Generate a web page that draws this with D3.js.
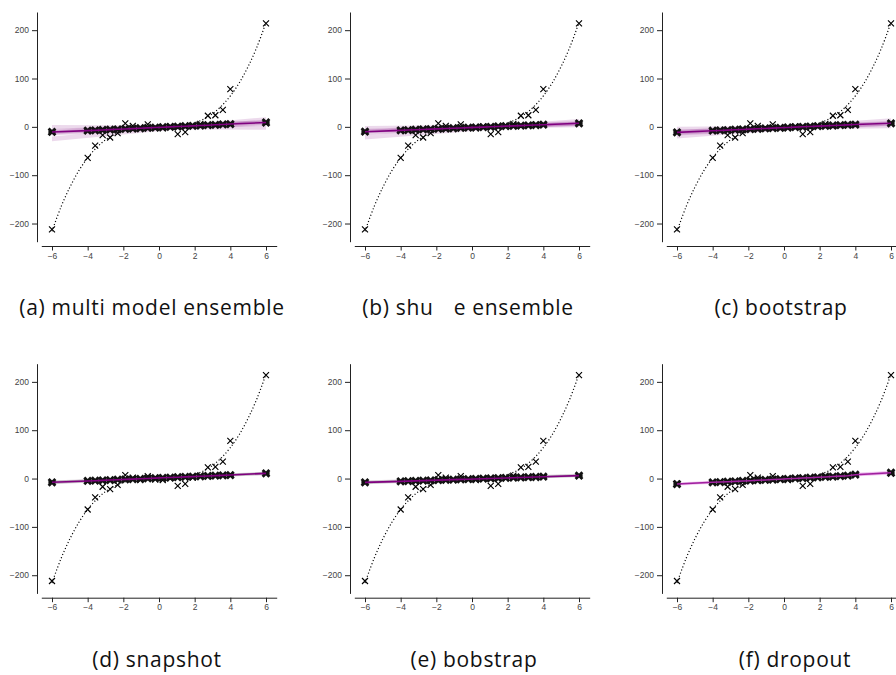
<!DOCTYPE html>
<html>
<head>
<meta charset="utf-8">
<script src="https://cdn.jsdelivr.net/npm/d3@7"></script>
<style>
  body { margin: 0; background: #fff; }
  svg { display: block; }
  .tick text { font-family: "Liberation Sans", Arial, sans-serif; font-size: 8.5px; fill: #444; }
  .tick line, .domain { stroke: #222; }
  .caption { font-family: "Open Sans", sans-serif; font-size: 21px; fill: #111; letter-spacing: 0.7px; }
</style>
</head>
<body>
<svg id="chart" width="896" height="675"></svg>
<script>
// training data (crosses): x and noisy y
const dataX = [-6, -4, -3.58, -3.16, -2.74, -2.32, -1.89, -1.47, -1.05, -0.63, -0.21, 0.21, 0.63, 1.05, 1.47, 1.89, 2.32, 2.74, 3.16, 3.58, 4, 6];
const dataY = [-212, -64, -39, -17, -22, -13, 7, 2, -3, 5, -2, -3, 1, -15, -11, 2, 6, 23, 24, 35, 78, 214];

// true function (dotted curve)
const trueX = [-6, -5.5, -5, -4.5, -4, -3.5, -3, -2.5, -2, -1.5, -1, -0.5, 0, 0.5, 1, 1.5, 2, 2.5, 3, 3.5, 4, 4.5, 5, 5.5, 6];
const trueY = [-216, -166, -125, -91, -64, -43, -27, -16, -8, -3, -1, 0, 0, 0, 1, 3, 8, 16, 27, 43, 64, 91, 125, 166, 216];

// mean prediction of the ensemble at each dataX, per panel
const meanMulti     = [-10.5, -7.9, -7.2, -6.5, -5.8, -5.1, -4.4, -3.6, -2.9, -2.2, -1.5, -0.8, -0.1, 0.6, 1.3, 2.0, 2.7, 3.4, 4.2, 4.9, 5.8, 9.0];
const meanShuffle   = [-10.0, -7.2, -6.6, -6.0, -5.4, -4.8, -4.1, -3.5, -2.9, -2.3, -1.7, -1.1, -0.5, 0.1, 0.8, 1.4, 2.0, 2.6, 3.2, 3.8, 4.5, 7.3];
const meanBootstrap = [-11.4, -8.0, -7.4, -6.7, -6.0, -5.4, -4.7, -4.0, -3.3, -2.6, -2.0, -1.3, -0.6, 0.1, 0.7, 1.4, 2.1, 2.8, 3.4, 4.1, 4.8, 7.3];
const meanSnapshot  = [-7.8, -5.0, -4.4, -3.7, -3.1, -2.4, -1.8, -1.1, -0.5, 0.2, 0.8, 1.5, 2.1, 2.7, 3.4, 4.0, 4.7, 5.3, 6.0, 6.6, 7.2, 10.8];
const meanBobstrap  = [-8.0, -5.8, -5.3, -4.8, -4.3, -3.8, -3.3, -2.8, -2.3, -1.8, -1.3, -0.8, -0.3, 0.2, 0.7, 1.2, 1.7, 2.2, 2.7, 3.2, 3.8, 6.0];
const meanDropout   = [-11.3, -7.8, -7.2, -6.5, -5.9, -5.0, -4.4, -3.5, -2.9, -2.0, -1.4, -0.5, 0.2, 1.0, 1.7, 2.6, 3.3, 4.2, 5.0, 5.9, 8.0, 12.0];

// member uncertainty bands: [low at -6, high at -6, low at 6, high at 6]
const bandMulti     = [[-30, -20, 12, 20], [-4, 4, -6, 2], [-18, -6, 4, 14], [-14, -4, 2, 12], [-16, -8, 6, 14]];
const bandShuffle   = [[-26, -16, 8, 16], [-6, 2, -1, 6], [-16, -6, 3, 12], [-14, -6, 4, 10], [-12, -4, 2, 10]];
const bandBootstrap = [[-24, -14, 10, 18], [-8, 0, -3, 4], [-18, -6, 3, 12], [-14, -6, 4, 11], [-16, -8, 2, 10]];
const bandSnapshot  = [[-12, -5, 8, 14], [-10, -4, 7, 13], [-11, -5, 9, 13]];
const bandBobstrap  = [[-12, -4, 3, 10], [-11, -5, 3, 9], [-10, -6, 4, 8]];
const bandDropout   = [[-15, -8, 9, 16], [-14, -9, 10, 15], [-13, -10, 8, 14]];

const captions = ["(a) multi model ensemble", "(b) shuffle ensemble", "(c) bootstrap", "(d) snapshot", "(e) bobstrap", "(f) dropout"];

const panels = [
  { mean: meanMulti, bands: bandMulti, band: "#800080", bandOp: 0.15, line: "#800080" },
  { mean: meanShuffle, bands: bandShuffle, band: "#800080", bandOp: 0.15, line: "#800080" },
  { mean: meanBootstrap, bands: bandBootstrap, band: "#800080", bandOp: 0.15, line: "#800080" },
  { mean: meanSnapshot, bands: bandSnapshot, band: "#6e506e", bandOp: 0.22, line: "#800080" },
  { mean: meanBobstrap, bands: bandBobstrap, band: "#6e506e", bandOp: 0.22, line: "#800080" },
  { mean: meanDropout, bands: bandDropout, band: "#cc44cc", bandOp: 0.2, line: "#a0209f" }
];

const colX = [37, 350, 662];
const rowY = [12, 363.7];
const captionX = [152, 468, 781, 157, 474, 795];
const captionY = [315, 666.5];
const plotH = 229.7, inset = 4.3, plotW = 235.4;

const svg = d3.select("#chart");

panels.forEach((p, i) => {
  const ax = colX[i % 3], top = rowY[Math.floor(i / 3)];
  const x = d3.scaleLinear().domain([-6.6, 6.6]).range([ax + inset, ax + inset + plotW]);
  const y = d3.scaleLinear().domain([-237.6, 237.6]).range([top + plotH, top]);
  const g = svg.append("g");

  // bands (one per ensemble member)
  const ends = [-6, 6];
  p.bands.forEach(b => {
    const pts = [[ends[0], b[0], b[1]], [ends[1], b[2], b[3]]];
    g.append("path")
      .attr("d", d3.area().x(d => x(d[0])).y0(d => y(d[1])).y1(d => y(d[2]))(pts))
      .attr("fill", p.band).attr("fill-opacity", p.bandOp);
  });

  // true function, dotted
  g.append("path")
    .attr("d", d3.line().x((d, k) => x(trueX[k])).y(d => y(d)).curve(d3.curveCatmullRom)(trueY))
    .attr("fill", "none").attr("stroke", "#000").attr("stroke-width", 1.2)
    .attr("stroke-dasharray", "1.1,2.2");

  // data crosses
  g.selectAll(".cross").data(dataX).enter().append("path")
    .attr("transform", (d, k) => `translate(${x(d)},${y(dataY[k])})`)
    .attr("d", "M-3,-3L3,3M-3,3L3,-3")
    .attr("stroke", "#000").attr("stroke-width", 1.15).attr("fill", "none");

  // ensemble predictions, bold markers
  g.selectAll(".pred").data(dataX).enter().append("path")
    .attr("transform", (d, k) => `translate(${x(d)},${y(p.mean[k])})`)
    .attr("d", "M-2.4,-2.4L2.4,2.4M-2.4,2.4L2.4,-2.4M-2.2,0L2.2,0")
    .attr("stroke", "#111").attr("stroke-width", 2.8).attr("stroke-linecap", "square").attr("fill", "none");

  // mean line
  g.append("path")
    .attr("d", d3.line().x((d, k) => x(dataX[k])).y(d => y(d))(p.mean))
    .attr("fill", "none").attr("stroke", p.line).attr("stroke-width", 1.6);

  // axes, offset from the data area
  g.append("g").attr("transform", `translate(0,${top + plotH + inset})`)
    .call(d3.axisBottom(x).tickValues([-6, -4, -2, 0, 2, 4, 6]).tickSize(4.5).tickSizeOuter(0).tickPadding(2));
  g.append("g").attr("transform", `translate(${ax},0)`)
    .call(d3.axisLeft(y).tickValues([-200, -100, 0, 100, 200]).tickSize(5).tickSizeOuter(0).tickPadding(3));

  // caption
  const cap = svg.append("text").attr("class", "caption")
    .attr("x", captionX[i]).attr("y", captionY[Math.floor(i / 3)]).attr("text-anchor", "middle");
  if (captions[i].includes("shuffle")) {
    // the ffl ligature is missing in the original rendering
    cap.append("tspan").text("(b) shu");
    cap.append("tspan").attr("dx", 20).text("e ensemble");
  } else {
    cap.text(captions[i]);
  }
});
</script>
</body>
</html>
